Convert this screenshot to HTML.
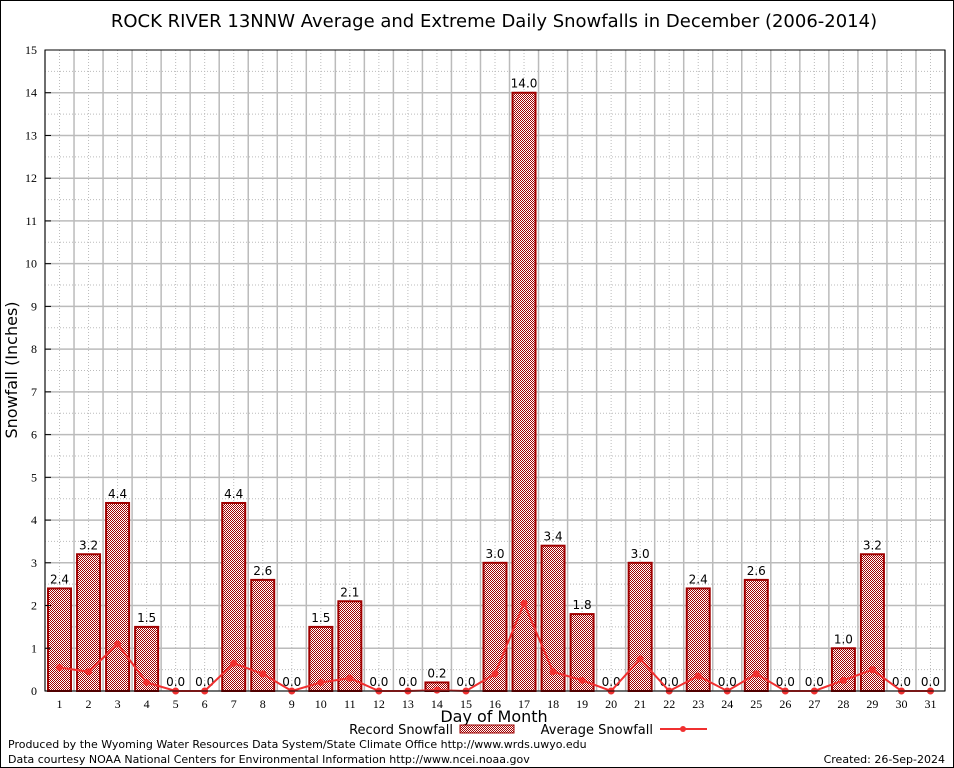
<!DOCTYPE html>
<html><head><meta charset="utf-8"><style>
body{margin:0;background:#fff}
svg{display:block;font-family:"DejaVu Sans","Liberation Sans",sans-serif}
</style></head><body>
<svg width="954" height="768" viewBox="0 0 954 768">
<defs>
<pattern id="chk" width="2" height="2" patternUnits="userSpaceOnUse">
<rect width="2" height="2" fill="#fff"/><rect width="1" height="1" fill="#a00000"/><rect x="1" y="1" width="1" height="1" fill="#a00000"/>
</pattern>
</defs>
<rect x="0.5" y="0.5" width="953" height="767" fill="#fff" stroke="#000"/>
<text x="494" y="27" font-size="18" text-anchor="middle">ROCK RIVER 13NNW Average and Extreme Daily Snowfalls in December (2006-2014)</text>
<g id="grid"></g>
<g id="bars"></g>
<g id="avg"></g>
<rect x="45" y="50" width="900" height="641" fill="none" stroke="#000"/>
<g id="axes" font-family="'Liberation Serif',serif" font-size="12"></g>
<text transform="translate(17,370) rotate(-90)" font-size="16" text-anchor="middle">Snowfall (Inches)</text>
<text x="494" y="722" font-size="16" text-anchor="middle">Day of Month</text>
<g>
<text x="453" y="734" font-size="13" text-anchor="end">Record Snowfall</text>
<rect x="460" y="725" width="54" height="8" fill="url(#chk)" stroke="#a00000"/>
</g>
<g>
<text x="653" y="734" font-size="13" text-anchor="end">Average Snowfall</text>
<line x1="660" y1="729" x2="707" y2="729" stroke="#f03030" stroke-width="2"/>
<circle cx="683" cy="729" r="3" fill="#f03030"/>
</g>
<text x="8" y="748" font-size="11">Produced by the Wyoming Water Resources Data System/State Climate Office http://www.wrds.uwyo.edu</text>
<text x="8" y="763" font-size="11">Data courtesy NOAA National Centers for Environmental Information http://www.ncei.noaa.gov</text>
<text x="945" y="763" font-size="11" text-anchor="end">Created:  26-Sep-2024</text>
</svg>
<script>
const days=[1,2,3,4,5,6,7,8,9,10,11,12,13,14,15,16,17,18,19,20,21,22,23,24,25,26,27,28,29,30,31];
const record=[2.4,3.2,4.4,1.5,0,0,4.4,2.6,0,1.5,2.1,0,0,0.2,0,3.0,14.0,3.4,1.8,0,3.0,0,2.4,0,2.6,0,0,1.0,3.2,0,0];
const avg=[0.55,0.45,1.1,0.2,0,0,0.65,0.4,0,0.2,0.3,0,0,0.02,0,0.4,2.05,0.45,0.25,0,0.75,0,0.35,0,0.4,0,0,0.25,0.5,0,0];
const yTicks=[0,1,2,3,4,5,6,7,8,9,10,11,12,13,14,15];
const NS='http://www.w3.org/2000/svg';
const L=45,R=945,T=50,B=691,YMAX=15;
const x=d=>L+(d-0.5)*(R-L)/31;
const y=v=>B-v*(B-T)/YMAX;
function mk(tag,a,p){const e=document.createElementNS(NS,tag);for(const k in a)e.setAttribute(k,a[k]);p.appendChild(e);return e;}
const g=document.getElementById('grid'),bg=document.getElementById('bars'),ag=document.getElementById('avg'),ax=document.getElementById('axes');
for(let i=0;i<=31;i++){const xx=L+i*(R-L)/31;
 if(i<31){const gm=mk('line',{x1:xx+(R-L)/62,x2:xx+(R-L)/62,y1:T,y2:B,stroke:'#bbb','stroke-dasharray':'1,2'},g);}
 const gl=mk('line',{x1:xx,x2:xx,y1:T,y2:B,stroke:'#bbb','stroke-width':1.5},g);}
for(let v=0;v<YMAX;v+=0.5){const yy=y(v);
 mk('line',{x1:L,x2:R,y1:yy,y2:yy,stroke:'#bbb','stroke-width':Number.isInteger(v)?1.5:1,'stroke-dasharray':Number.isInteger(v)?'none':'1,2'},g);}
yTicks.forEach(t=>{const tx=mk('text',{x:L-8,y:y(t)+4,'text-anchor':'end'},ax);tx.textContent=t;
 
 
 mk('line',{x1:L,x2:L+6,y1:y(t),y2:y(t),stroke:'#000'},ax);});
days.forEach((d,i)=>{const cx=x(d);
 const tx=mk('text',{x:cx,y:B+17,'text-anchor':'middle'},ax);tx.textContent=d;
 
 
 const v=record[i];
 if(v>0){const r=mk('rect',{x:cx-11.5,y:y(v),width:23,height:B-y(v),fill:'url(#chk)',stroke:'#a00000','stroke-width':2},bg);
  
  }
 const lb=mk('text',{x:cx,y:y(v)-5,'text-anchor':'middle','font-size':12},bg);lb.textContent=v.toFixed(1);
 
 
});
const pts=days.map((d,i)=>x(d)+','+y(avg[i])).join(' ');
const pl=mk('polyline',{points:pts,fill:'none',stroke:'#f03030','stroke-width':2},ag);


days.forEach((d,i)=>{const c=mk('circle',{cx:x(d),cy:y(avg[i]),r:3.5,fill:'#f03030'},ag);
 
 });
</script>
</body></html>
